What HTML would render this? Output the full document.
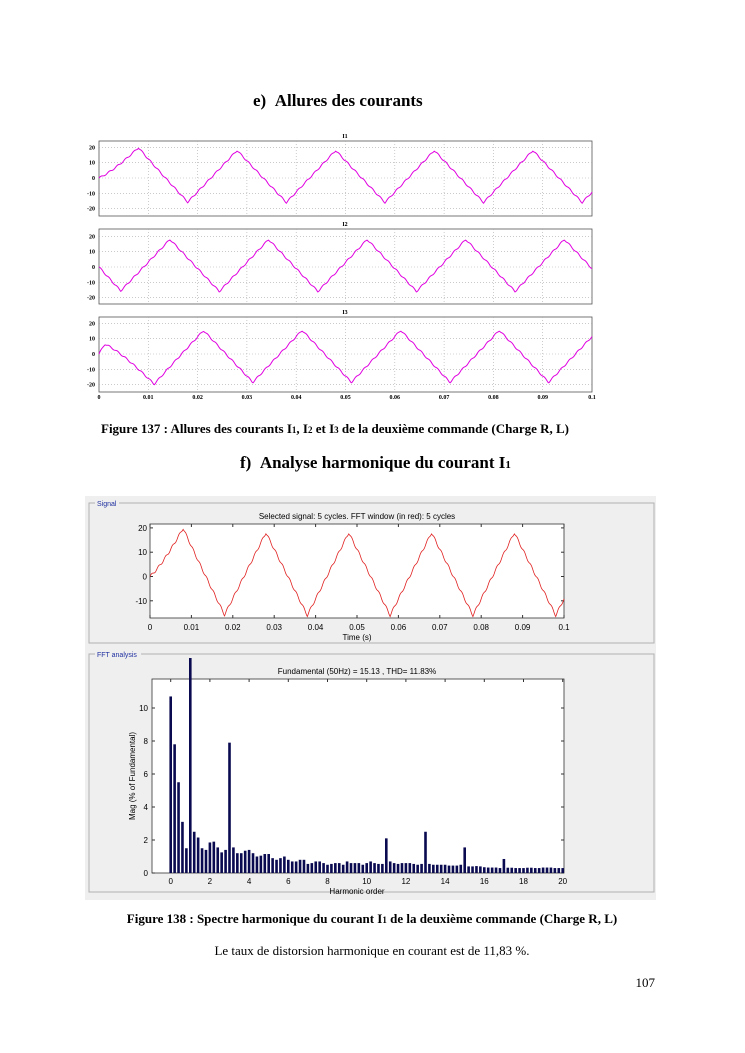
<!DOCTYPE html>
<html><head><meta charset="utf-8"><style>
body{margin:0;background:#fff;}
svg{display:block;}
.ser{font-family:"Liberation Serif",serif;}
.san{font-family:"Liberation Sans",sans-serif;}
</style></head><body>
<svg id="s" width="745" height="1053" viewBox="0 0 745 1053" xmlns="http://www.w3.org/2000/svg">
<rect width="745" height="1053" fill="#fff"/>
<text class="ser" x="253" y="106" font-size="17" font-weight="bold">e)&#160;&#160;Allures des courants</text>
<g id="topg"></g>
<text class="ser" x="101" y="433" font-size="13" font-weight="bold">Figure 137 : Allures des courants I<tspan font-size="9">1</tspan>, I<tspan font-size="9">2</tspan> et I<tspan font-size="9">3</tspan> de la deuxième commande (Charge R, L)</text>
<text class="ser" x="240" y="468" font-size="17" font-weight="bold">f)&#160;&#160;Analyse harmonique du courant I<tspan font-size="11">1</tspan></text>
<rect x="85" y="496" width="571" height="404" fill="#efefef"/>
<rect x="89" y="503" width="565" height="140" fill="none" stroke="#b0b0b0"/>
<rect x="89" y="654" width="565" height="238" fill="none" stroke="#b0b0b0"/>
<rect x="95" y="498" width="24" height="10" fill="#efefef"/>
<text class="san" x="97" y="506" font-size="7" fill="#2030a0">Signal</text>
<rect x="95" y="650" width="46" height="10" fill="#efefef"/>
<text class="san" x="97" y="657" font-size="7" fill="#2030a0">FFT analysis</text>
<g id="sig"></g>
<g id="fft"></g>
<text class="ser" x="372" y="923" font-size="13" font-weight="bold" text-anchor="middle">Figure 138 : Spectre harmonique du courant I<tspan font-size="9">1</tspan> de la deuxième commande (Charge R, L)</text>
<text class="ser" x="372" y="955" font-size="13" text-anchor="middle">Le taux de distorsion harmonique en courant est de 11,83 %.</text>
<text class="ser" x="655" y="987" font-size="13" text-anchor="end">107</text>
</svg>
<script>
(function(){
var NS="http://www.w3.org/2000/svg";
function el(p,tag,a,txt){var e=document.createElementNS(NS,tag);for(var k in a)e.setAttribute(k,a[k]);if(txt!==undefined)e.textContent=txt;p.appendChild(e);return e;}
function tri(x,T){var u=((x/T)%1+1)%1;return 1-4*Math.min(u,1-u);}
function wave(t,pk,A,off){var v=A*tri(t-pk,0.02)+off;var v0=A*tri(-pk,0.02)+off;return v-v0*Math.exp(-t/0.005)+0.5*Math.sin(2*Math.PI*600*t);}
var tg=document.getElementById('topg');
var x0=99,x1=592;
var plots=[{n:'I1',t:141,b:216,z:178,pk:0.008,A:17,off:1},{n:'I2',t:229,b:304,z:267,pk:0.0144,A:17,off:1},{n:'I3',t:317,b:392,z:354,pk:0.0012,A:17,off:-1.5}];
plots.forEach(function(p){
 el(tg,'rect',{x:x0,y:p.t,width:x1-x0,height:p.b-p.t,fill:'#fff',stroke:'#555','stroke-width':0.8});
 for(var k=1;k<10;k++){var x=x0+(x1-x0)*k/10;el(tg,'line',{x1:x,x2:x,y1:p.t,y2:p.b,stroke:'#aaa','stroke-dasharray':'1,2','stroke-width':0.6});}
 [20,10,0,-10,-20].forEach(function(v){var y=p.z-v*1.53;el(tg,'line',{x1:x0,x2:x1,y1:y,y2:y,stroke:'#aaa','stroke-dasharray':'1,2','stroke-width':0.6});
  el(tg,'text',{x:x0-4,y:y+2,'font-size':6,'text-anchor':'end','font-family':'Liberation Serif','font-weight':'bold'},String(v));});
 el(tg,'text',{x:345,y:p.t-3,'font-size':6,'text-anchor':'middle','font-family':'Liberation Serif','font-weight':'bold'},p.n);
 var d='';for(var j=0;j<=800;j++){var t=0.1*j/800;var v=wave(t,p.pk,p.A,p.off);d+=(j?'L':'M')+(x0+(x1-x0)*j/800).toFixed(2)+','+(p.z-v*1.53).toFixed(2);}
 el(tg,'path',{d:d,fill:'none',stroke:'#e000e0','stroke-width':1});
});
['0','0.01','0.02','0.03','0.04','0.05','0.06','0.07','0.08','0.09','0.1'].forEach(function(s,k){el(tg,'text',{x:x0+(x1-x0)*k/10,y:399,'font-size':6,'text-anchor':'middle','font-family':'Liberation Serif','font-weight':'bold'},s);});
var sg=document.getElementById('sig');var sx0=150,sx1=564,st=524,sb=618,sz=576.5,ss=2.43;
el(sg,'rect',{x:sx0,y:st,width:sx1-sx0,height:sb-st,fill:'#fff',stroke:'#333','stroke-width':0.8});
el(sg,'text',{x:357,y:519,'font-size':8,'text-anchor':'middle','font-family':'Liberation Sans'},'Selected signal: 5 cycles. FFT window (in red): 5 cycles');
[20,10,0,-10].forEach(function(v){var y=sz-v*ss;el(sg,'text',{x:sx0-3,y:y+3,'font-size':8,'text-anchor':'end','font-family':'Liberation Sans'},String(v));el(sg,'line',{x1:sx0,x2:sx0+3,y1:y,y2:y,stroke:'#333'});el(sg,'line',{x1:sx1,x2:sx1-3,y1:y,y2:y,stroke:'#333'});});
['0','0.01','0.02','0.03','0.04','0.05','0.06','0.07','0.08','0.09','0.1'].forEach(function(s,k){var x=sx0+(sx1-sx0)*k/10;el(sg,'text',{x:x,y:630,'font-size':8,'text-anchor':'middle','font-family':'Liberation Sans'},s);el(sg,'line',{x1:x,x2:x,y1:st,y2:st+3,stroke:'#333'});el(sg,'line',{x1:x,x2:x,y1:sb,y2:sb-3,stroke:'#333'});});
el(sg,'text',{x:357,y:640,'font-size':8,'text-anchor':'middle','font-family':'Liberation Sans'},'Time (s)');
var d='';for(var j=0;j<=800;j++){var t=0.1*j/800;var v=wave(t,0.008,17,1);v=Math.max(v,-17);d+=(j?'L':'M')+(sx0+(sx1-sx0)*j/800).toFixed(2)+','+(sz-v*ss).toFixed(2);}
el(sg,'path',{d:d,fill:'none',stroke:'#e02020','stroke-width':0.8});
var fg=document.getElementById('fft');var fx0=152,fx1=564,ft=679,fb=873,hx0=170.7,hs=19.6,vs=16.5;
el(fg,'rect',{x:fx0,y:ft,width:fx1-fx0,height:fb-ft,fill:'#fff',stroke:'#333','stroke-width':0.8});
el(fg,'text',{x:357,y:674,'font-size':8,'text-anchor':'middle','font-family':'Liberation Sans'},'Fundamental (50Hz) = 15.13 , THD= 11.83%');
[0,2,4,6,8,10].forEach(function(v){var y=fb-v*vs;el(fg,'text',{x:fx0-4,y:y+3,'font-size':8,'text-anchor':'end','font-family':'Liberation Sans'},String(v));el(fg,'line',{x1:fx0,x2:fx0+3,y1:y,y2:y,stroke:'#333'});el(fg,'line',{x1:fx1,x2:fx1-3,y1:y,y2:y,stroke:'#333'});});
for(var k=0;k<=20;k+=2){var x=hx0+k*hs;el(fg,'text',{x:x,y:884,'font-size':8,'text-anchor':'middle','font-family':'Liberation Sans'},String(k));el(fg,'line',{x1:x,x2:x,y1:ft,y2:ft+3,stroke:'#333'});el(fg,'line',{x1:x,x2:x,y1:fb,y2:fb-3,stroke:'#333'});}
el(fg,'text',{x:357,y:894,'font-size':8,'text-anchor':'middle','font-family':'Liberation Sans'},'Harmonic order');
el(fg,'text',{x:0,y:0,'font-size':8,'text-anchor':'middle','font-family':'Liberation Sans',transform:'translate(135,776) rotate(-90)'},'Mag (% of Fundamental)');
var vals=[10.7,7.8,5.5,3.1,1.5,100,2.5,2.15,1.5,1.4,1.85,1.9,1.55,1.25,1.4,7.9,1.55,1.2,1.2,1.35,1.4,1.2,1.0,1.05,1.15,1.15,0.9,0.8,0.9,1.0,0.8,0.7,0.7,0.8,0.8,0.55,0.6,0.7,0.7,0.6,0.5,0.55,0.6,0.6,0.5,0.7,0.6,0.6,0.6,0.5,0.6,0.7,0.6,0.55,0.55,2.1,0.7,0.6,0.55,0.6,0.6,0.6,0.55,0.5,0.55,2.5,0.55,0.5,0.5,0.5,0.5,0.45,0.45,0.45,0.5,1.55,0.4,0.4,0.42,0.4,0.35,0.33,0.33,0.33,0.3,0.85,0.32,0.32,0.3,0.3,0.3,0.32,0.32,0.3,0.3,0.33,0.33,0.33,0.3,0.3,0.3];
vals.forEach(function(v,i){var x=hx0+i*0.2*hs;var yt=v>12?658:fb-v*vs;el(fg,'rect',{x:(x-1.3).toFixed(2),y:yt.toFixed(2),width:2.6,height:(fb-yt).toFixed(2),fill:'#0a0a50'});});
})();
</script>
</body></html>
